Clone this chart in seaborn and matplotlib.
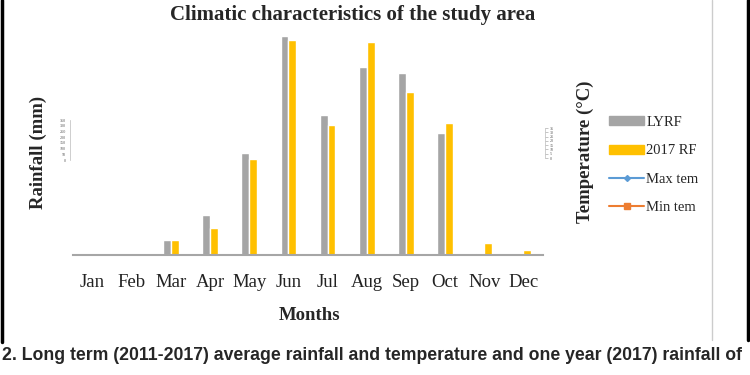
import matplotlib
matplotlib.use("Agg")
import matplotlib.pyplot as plt
from matplotlib.lines import Line2D
from matplotlib.patches import Patch
import pandas as pd
import seaborn as sns

MONTHS = ["Jan", "Feb", "Mar", "Apr", "May", "Jun", "Jul", "Aug", "Sep", "Oct", "Nov", "Dec"]
LYRF = [0, 0, 18, 48, 123, 263, 168, 226, 219, 146, 2, 0]        # long-term (2011-2017) rainfall, mm
RF_2017 = [0, 0, 18, 32, 115, 258, 156, 256, 196, 158, 15, 6]    # 2017 rainfall, mm
SERIES = ["LYRF", "2017 RF"]
RAIN_TICKS = [0, 50, 100, 150, 200, 250, 300, 350]
TEMP_TICKS = [0, 5, 10, 15, 20, 25, 30, 35]

GRAY, GOLD, BLUE, ORANGE = "#a5a5a5", "#ffc000", "#5b9bd5", "#ed7d31"

sns.set_style("white")
plt.rcParams["font.family"] = ["Liberation Serif", "DejaVu Serif"]

df = pd.DataFrame({
    "month": MONTHS * 2,
    "rain": LYRF + RF_2017,
    "series": [SERIES[0]] * len(MONTHS) + [SERIES[1]] * len(MONTHS),
})

fig = plt.figure(figsize=(7.5, 3.75), dpi=100)
ax = fig.add_axes([73 / 750, 120 / 375, 470 / 750, 225 / 375])
sns.barplot(data=df, x="month", y="rain", hue="series", palette=[GRAY, GOLD],
            width=0.4, gap=0, ax=ax, legend=False, saturation=1)
ax.set_ylim(0, 270)
ax.set_xlim(-0.5, 11.5)
ax.set_yticks([])
ax.set_ylabel("")
ax.set_xlabel("")
for s in ["top", "right", "left"]:
    ax.spines[s].set_visible(False)
ax.spines["bottom"].set_color("#a6a6a6")
ax.spines["bottom"].set_linewidth(1.5)
ax.tick_params(axis="x", length=0, labelsize=13.5, pad=14, colors="#222222")

fig.text(353 / 750, 1 - 15 / 375, "Climatic characteristics of the study area",
         ha="center", va="center", fontsize=15, fontweight="bold")
fig.text(310 / 750, 1 - 316 / 375, "Months", ha="center", va="center",
         fontsize=13.5, fontweight="bold")
fig.text(38 / 750, 1 - 152 / 375, "Rainfall (mm)", ha="center", va="center",
         rotation=90, fontsize=13.5, fontweight="bold")
fig.text(585 / 750, 1 - 152 / 375, "Temperature (°C)", ha="center", va="center",
         rotation=90, fontsize=13.5, fontweight="bold")

# squashed axes scales, as in the original
ax_l = fig.add_axes([70 / 750, 1 - 160 / 375, 0.0005, 40 / 375])
ax_l.set_ylim(RAIN_TICKS[0], RAIN_TICKS[-1])
ax_l.set_yticks(RAIN_TICKS)
ax_l.set_xticks([])
ax_r = fig.add_axes([545 / 750, 1 - 158 / 375, 0.0005, 30 / 375])
ax_r.set_ylim(TEMP_TICKS[0], TEMP_TICKS[-1])
ax_r.set_yticks(TEMP_TICKS)
ax_r.set_xticks([])
ax_r.yaxis.tick_right()
for a in (ax_l, ax_r):
    side = "left" if a is ax_l else "right"
    for s in a.spines.values():
        s.set_visible(False)
    a.spines[side].set_visible(True)
    a.spines[side].set_color("#bbbbbb")
    a.spines[side].set_linewidth(0.5)
    a.tick_params(axis="y", labelsize=3, length=2, width=0.4, pad=1,
                  colors="#999999", labelcolor="#555555")
    a.patch.set_alpha(0)

handles = [
    Patch(color=GRAY, label="LYRF"),
    Patch(color=GOLD, label="2017 RF"),
    Line2D([], [], color=BLUE, marker="D", markersize=3, lw=1.5, label="Max tem"),
    Line2D([], [], color=ORANGE, marker="s", markersize=4, lw=1.5, label="Min tem"),
]
fig.legend(handles=handles, loc="center left", bbox_to_anchor=(596 / 750, 1 - 165 / 375),
           frameon=False, fontsize=10.5, handlelength=2.4, handleheight=0.55,
           labelspacing=1.05, handletextpad=0.15)

fig.text(0.002, 1 - 355 / 375,
         "2. Long term (2011-2017) average rainfall and temperature and one year (2017) rainfall of",
         ha="left", va="center", fontsize=12.7, fontweight="bold",
         family=["Liberation Sans", "DejaVu Sans"])

fig.add_artist(Line2D([0.002, 0.002], [1 - 342 / 375, 1], color="black", lw=2.5,
                      transform=fig.transFigure))
fig.add_artist(Line2D([0.997, 0.997], [1 - 340 / 375, 1], color="black", lw=2.5,
                      transform=fig.transFigure))
fig.add_artist(Line2D([712 / 750, 712 / 750], [1 - 340 / 375, 1], color="#cccccc", lw=1,
                      transform=fig.transFigure))

fig.savefig("out.png", dpi=100)
